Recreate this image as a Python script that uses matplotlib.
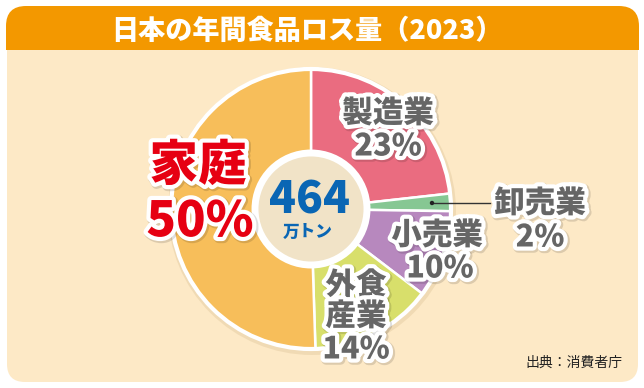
import matplotlib
matplotlib.use("Agg")
import matplotlib.pyplot as plt
import matplotlib.patheffects as pe
from matplotlib.patches import FancyBboxPatch, Rectangle, Circle

plt.rcParams['font.family'] = ['Noto Sans CJK JP', 'DejaVu Sans']

# ---- data ----
title = "日本の年間食品ロス量（2023）"
categories = ["製造業", "卸売業", "小売業", "外食産業", "家庭"]
percents = [23, 2, 10, 14, 50]
colors = ["#EA6C80", "#86C793", "#B788BE", "#D8DF6B", "#F7BE5A"]
total_value = "464"
total_unit = "万トン"
source = "出典：消費者庁"

W, H = 644, 388
fig = plt.figure(figsize=(W / 100, H / 100), dpi=100)
fig.patch.set_facecolor("white")
ax = fig.add_axes([0, 0, 1, 1])
ax.set_xlim(0, W)
ax.set_ylim(0, H)
ax.set_aspect("equal")
ax.axis("off")


def Y(y):
    return H - y


# panel
ax.add_patch(FancyBboxPatch((7, Y(382)), 631, 340, boxstyle="round,pad=0,rounding_size=18",
                            fc="#FDE9C6", ec="none", zorder=0))
ax.add_patch(FancyBboxPatch((6, Y(75)), 633, 69, boxstyle="round,pad=0,rounding_size=20",
                            fc="#F39800", ec="none", zorder=1))
ax.add_patch(Rectangle((5, Y(100)), 636, 50, fc="#FDE9C6", ec="none", zorder=2))
ax.add_patch(Rectangle((0, Y(100)), 7, 50, fc="white", ec="none", zorder=2))
ax.add_patch(Rectangle((638, Y(100)), 6, 50, fc="white", ec="none", zorder=2))

ax.text(307, Y(31), title, color="white", fontsize=19.5, fontweight="black",
        ha="center", va="center", zorder=3)

# donut
cx, cy, R, r_in = 311, Y(209), 140, 57
ax.add_patch(Circle((cx + 1, cy - 2), R + 4, fc=(0.6, 0.45, 0.2, 0.12), ec="none", zorder=3))
wedges, _ = ax.pie(percents, colors=colors, startangle=90, counterclock=False,
                   center=(cx, cy), radius=R, frame=True,
                   wedgeprops=dict(width=R - r_in, edgecolor="white", linewidth=1.8))
for w in wedges:
    w.set_zorder(4)
ax.set_xlim(0, W)
ax.set_ylim(0, H)
ax.axis("off")
ax.add_patch(Circle((cx, cy), R, fc="none", ec="white", lw=3, zorder=5))
ax.add_patch(Circle((cx, cy), 56, fc="#F1E3C7", ec="white", lw=5, zorder=5))

stroke = [pe.Stroke(linewidth=7, foreground=(0, 0, 0, 0.13), offset=(1, -1)),
          pe.Stroke(linewidth=6, foreground="white"), pe.Normal()]
gray = "#666666"


def label(x, y, s, size=22, color=gray):
    ax.text(x, Y(y), s, fontsize=size, fontweight="black", color=color,
            ha="center", va="center", path_effects=stroke, zorder=8)


label(388, 113, categories[0])
label(388, 146, f"{percents[0]}%")
label(540, 203, categories[1])
label(540, 237, f"{percents[1]}%")
label(437, 235, categories[2])
label(440, 268, f"{percents[2]}%")
label(356, 285, categories[3][:2])
label(356, 316, categories[3][2:])
label(356, 349, f"{percents[3]}%")
label(198, 166, categories[4], size=35, color="#E60012")
label(200, 222, f"{percents[4]}%", size=35, color="#E60012")

ax.text(310, Y(200), total_value, fontsize=32, fontweight="black", color="#0A66B4",
        ha="center", va="center", zorder=8)
ax.text(308, Y(232), total_unit, fontsize=12, fontweight="black", color="#0A66B4",
        ha="center", va="center", zorder=8)

# leader for 卸売業
ax.plot([432, 490], [Y(203), Y(203)], color="#333333", lw=1, zorder=7)
ax.add_patch(Circle((432, Y(203)), 2.2, fc="#222222", ec="none", zorder=7))

ax.text(574, Y(363), source, fontsize=10, color="#222222", ha="center", va="center", zorder=8)

fig.savefig("out.png", dpi=100, facecolor="white")
